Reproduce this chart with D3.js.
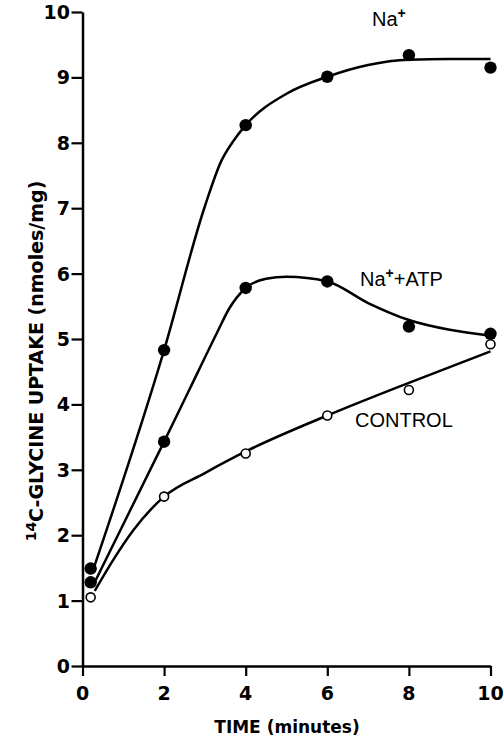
<!DOCTYPE html>
<html>
<head>
<meta charset="utf-8">
<script src="https://cdn.jsdelivr.net/npm/d3@7"></script>
<style>
  body { margin: 0; background: #fff; }
  svg { display: block; }
  .tick-label { font-family: "DejaVu Sans", sans-serif; font-weight: bold; font-size: 19px; fill: #000; }
  .axis-title { font-family: "DejaVu Sans", sans-serif; font-weight: bold; font-size: 17px; fill: #000; }
  .series-label { font-family: "Liberation Sans", Arial, sans-serif; font-size: 20px; fill: #000; }
</style>
</head>
<body>
<div id="chart"></div>
<script>
// measured points
var times = [0.2, 2, 4, 6, 8, 10];
var naValues = [1.49, 4.83, 8.27, 9.01, 9.34, 9.15];
var naAtpValues = [1.28, 3.43, 5.78, 5.88, 5.19, 5.08];
var controlValues = [1.05, 2.59, 3.25, 3.83, 4.22, 4.92];

// hand-drawn fitted curves
var naCurveT = [0.25, 2, 3, 3.4, 3.7, 4, 5, 6, 7, 8, 9, 10];
var naCurveV = [1.45, 4.83, 7.03, 7.72, 8.03, 8.27, 8.75, 9.01, 9.19, 9.27, 9.28, 9.28];
var atpCurveT = [0.25, 2, 2.6, 3.3, 3.6, 4, 4.5, 5, 6, 7, 8, 9, 10];
var atpCurveV = [1.22, 3.43, 4.2, 5.1, 5.47, 5.78, 5.92, 5.95, 5.88, 5.55, 5.29, 5.14, 5.05];
var ctlCurveT = [0.3, 0.75, 1.25, 2, 3, 4, 6, 8, 10];
var ctlCurveV = [1.15, 1.62, 2.08, 2.59, 2.95, 3.28, 3.83, 4.33, 4.81];

var xTicks = [0, 2, 4, 6, 8, 10];
var yTicks = [0, 1, 2, 3, 4, 5, 6, 7, 8, 9, 10];

var width = 504;
var height = 741;

var svg = d3.select('#chart').append('svg')
  .attr('width', width)
  .attr('height', height);

var x = d3.scaleLinear().domain([0, 10]).range([82.5, 490.5]);
var y = d3.scaleLinear().domain([0, 10]).range([666, 12]);

// axes
var xAxis = svg.append('g')
  .attr('transform', 'translate(0,' + y(0) + ')')
  .call(d3.axisBottom(x).tickValues(xTicks).tickSize(10).tickSizeOuter(0).tickFormat(''));
var yAxis = svg.append('g')
  .attr('transform', 'translate(' + x(0) + ',0)')
  .call(d3.axisLeft(y).tickValues(yTicks).tickSize(11).tickSizeOuter(0).tickFormat(''));

[xAxis, yAxis].forEach(function (a) {
  a.select('.domain').attr('stroke', '#000').attr('stroke-width', 2.5);
  a.selectAll('.tick line').attr('stroke', '#000').attr('stroke-width', 2.2);
});

svg.selectAll('.xlab')
  .data(xTicks)
  .enter().append('text')
  .attr('class', 'tick-label')
  .attr('x', function (d) { return x(d); })
  .attr('y', 700)
  .attr('text-anchor', 'middle')
  .text(function (d) { return d; });

svg.selectAll('.ylab')
  .data(yTicks)
  .enter().append('text')
  .attr('class', 'tick-label')
  .attr('x', 70)
  .attr('y', function (d) { return y(d) + 7; })
  .attr('text-anchor', 'end')
  .text(function (d) { return d; });

// axis titles
svg.append('text')
  .attr('class', 'axis-title')
  .attr('x', 287)
  .attr('y', 733)
  .attr('text-anchor', 'middle')
  .text('TIME (minutes)');

var yTitle = svg.append('text')
  .attr('class', 'axis-title')
  .style('font-size', '19px')
  .attr('transform', 'translate(43,361) rotate(-90)')
  .attr('text-anchor', 'middle');
yTitle.append('tspan').style('font-size', '14px').attr('dy', -7).text('14');
yTitle.append('tspan').attr('dy', 7).text('C-GLYCINE UPTAKE (nmoles/mg)');

// curves
var line = d3.line()
  .x(function (d) { return x(d[0]); })
  .y(function (d) { return y(d[1]); })
  .curve(d3.curveMonotoneX);

function curveData(ts, vs) {
  return ts.map(function (t, i) { return [t, vs[i]]; });
}

[[naCurveT, naCurveV], [atpCurveT, atpCurveV], [ctlCurveT, ctlCurveV]].forEach(function (c) {
  svg.append('path')
    .datum(curveData(c[0], c[1]))
    .attr('fill', 'none')
    .attr('stroke', '#000')
    .attr('stroke-width', 2.5)
    .attr('d', line);
});

// points
function drawPoints(values, filled) {
  svg.append('g').selectAll('circle')
    .data(values)
    .enter().append('circle')
    .attr('cx', function (d, i) { return x(times[i]); })
    .attr('cy', function (d) { return y(d); })
    .attr('r', filled ? 6.2 : 4.5)
    .attr('fill', filled ? '#000' : '#fff')
    .attr('stroke', '#000')
    .attr('stroke-width', filled ? 0 : 1.6);
}
drawPoints(controlValues, false);
drawPoints(naAtpValues, true);
drawPoints(naValues, true);

// series labels
function seriesLabel(px, py, rest) {
  var t = svg.append('text').attr('class', 'series-label').attr('x', px).attr('y', py);
  t.append('tspan').text('Na');
  t.append('tspan').style('font-size', '14px').attr('font-weight', 'bold').attr('dy', -8).text('+');
  if (rest) t.append('tspan').attr('dy', 8).text(rest);
}
seriesLabel(372, 26, null);
seriesLabel(360, 286, '+ATP');

svg.append('text')
  .attr('class', 'series-label')
  .attr('x', 355)
  .attr('y', 427)
  .text('CONTROL');
</script>
</body>
</html>
